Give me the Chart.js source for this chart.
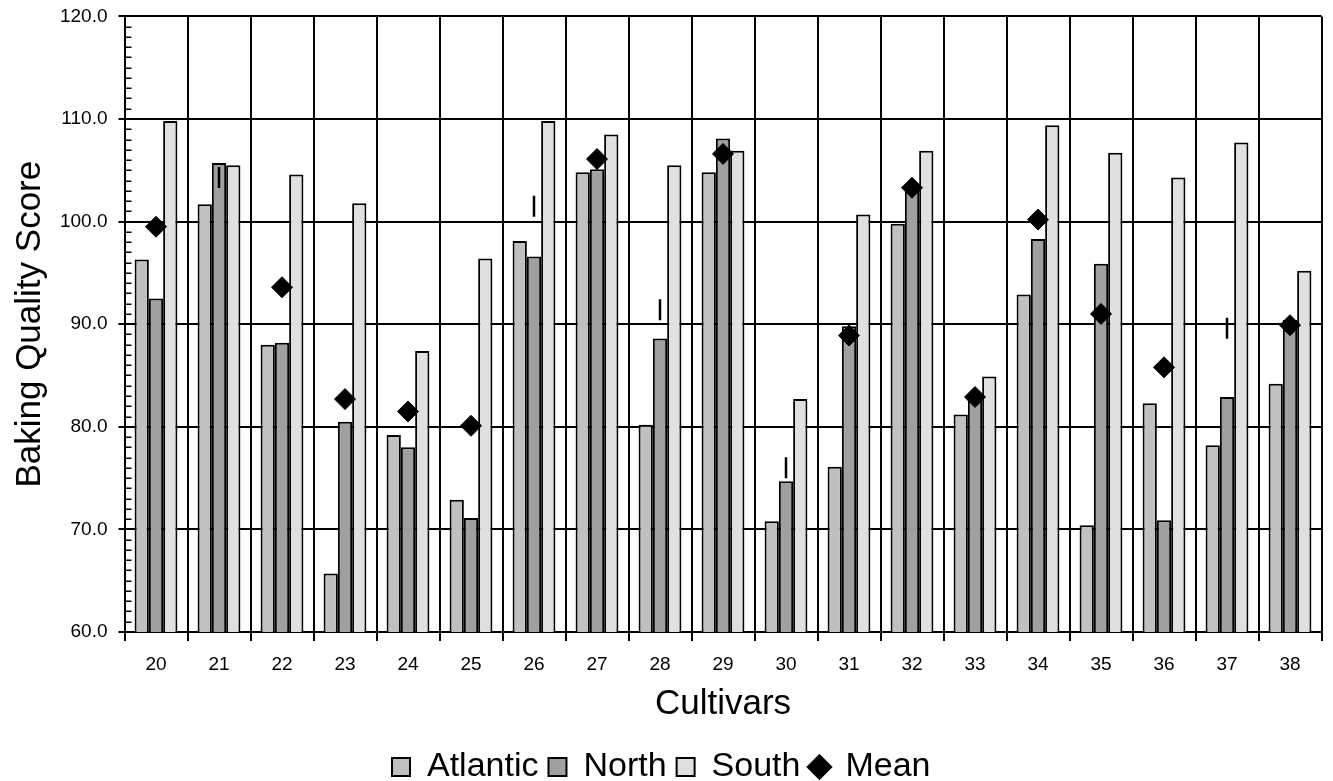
<!DOCTYPE html>
<html><head><meta charset="utf-8">
<script src="https://cdn.jsdelivr.net/npm/chart.js@4/dist/chart.umd.min.js"></script>
<style>html,body{margin:0;padding:0;background:#fff;overflow:hidden}#wrap{width:1333px;height:800px;position:relative;top:-6px}</style>
</head><body><div id="wrap"><canvas id="c"></canvas></div>
<script>
const cultivars = ['20','21','22','23','24','25','26','27','28','29','30','31','32','33','34','35','36','37','38'];
const atlantic = [96.3, 101.7, 88.0, 65.7, 79.2, 72.9, 98.1, 104.8, 80.2, 104.8, 70.8, 76.1, 99.8, 81.2, 92.9, 70.4, 82.3, 78.2, 84.2];
const north    = [92.5, 105.7, 88.2, 80.5, 78.0, 71.1, 96.6, 105.1, 88.6, 108.1, 74.7, 89.8, 103.1, 82.6, 98.3, 95.9, 70.9, 82.9, 90.4];
const south    = [109.8, 105.5, 104.6, 101.8, 87.4, 96.4, 109.8, 108.5, 105.5, 106.9, 82.7, 100.7, 106.9, 84.9, 109.4, 106.7, 104.3, 107.7, 95.2];
const mean     = [99.5, 104.3, 93.6, 82.7, 81.5, 80.1, 101.5, 106.1, 91.4, 106.6, 76.0, 88.9, 103.3, 82.9, 100.2, 91.0, 85.8, 89.6, 89.9];
// cultivars whose mean marker is drawn as a short vertical dash in the original
const dashMeans = ['21','26','28','30','37'];
const yTicksMin = 60, yTicksMax = 120, yStep = 10;

Chart.defaults.font.family = '"Liberation Sans", Arial, sans-serif';
Chart.defaults.color = '#000';

const minorTicks = {
  id: 'minorTicks',
  afterDraw(chart) {
    const y = chart.scales.y, ctx = chart.ctx, left = chart.chartArea.left;
    ctx.save();
    ctx.strokeStyle = '#000';
    ctx.lineWidth = 1.5;
    for (let v = y.min + 1; v < y.max; v += 1) {
      if (v % 10 === 0) continue;
      const py = Math.round(y.getPixelForValue(v)) + 0.25;
      ctx.beginPath(); ctx.moveTo(left, py); ctx.lineTo(left + 7, py); ctx.stroke();
    }
    ctx.restore();
  }
};

const isDash = ctx => dashMeans.includes(cultivars[ctx.dataIndex]);

new Chart(document.getElementById('c'), {
  data: {
    labels: cultivars,
    datasets: [
      { type: 'bar', label: 'Atlantic', data: atlantic, backgroundColor: '#C0C0C0', borderColor: '#000', borderWidth: 2, pointStyle: 'rect', order: 1 },
      { type: 'bar', label: 'North', data: north, backgroundColor: '#A0A0A0', borderColor: '#000', borderWidth: 2, pointStyle: 'rect', order: 1 },
      { type: 'bar', label: 'South', data: south, backgroundColor: '#E0E0E0', borderColor: '#000', borderWidth: 2, pointStyle: 'rect', order: 1 },
      { type: 'line', label: 'Mean', data: mean, showLine: false, order: 0,
        backgroundColor: '#000', borderColor: '#000',
        pointStyle: ctx => isDash(ctx) ? 'line' : 'rectRot',
        rotation: ctx => isDash(ctx) ? 90 : 0,
        pointRadius: 10.5,
        pointBorderWidth: ctx => isDash(ctx) ? 2.5 : 1,
        pointHoverRadius: 10.5 }
    ]
  },
  options: {
    responsive: true,
    maintainAspectRatio: false,
    animation: false,
    layout: { padding: { top: 16, right: 10.5, left: 0, bottom: 0 } },
    datasets: { bar: { categoryPercentage: 0.68, barPercentage: 1.0 } },
    plugins: {
      tooltip: { enabled: false },
      legend: {
        position: 'bottom',
        labels: {
          usePointStyle: true,
          boxHeight: 18,
          boxWidth: 18,
          padding: 10,
          color: '#000',
          font: { size: 34 },
          sort: (a, b) => a.datasetIndex - b.datasetIndex
        }
      }
    },
    scales: {
      x: {
        offset: true,
        grid: { offset: true, color: '#000', lineWidth: 2, tickLength: 9, drawTicks: true },
        border: { color: '#000', width: 2 },
        ticks: { font: { size: 19 }, padding: 12, color: '#000', maxRotation: 0 },
        title: { display: true, text: 'Cultivars', font: { size: 35 }, color: '#000', padding: { top: 0, bottom: 15 } },
        afterFit(scale) { scale.height = 108; }
      },
      y: {
        min: yTicksMin, max: yTicksMax,
        grid: { color: '#000', lineWidth: 2, tickLength: 6 },
        border: { color: '#000', width: 2 },
        ticks: { stepSize: yStep, font: { size: 19 }, padding: 11, color: '#000', callback: v => Number(v).toFixed(1) },
        title: { display: true, text: 'Baking Quality Score', font: { size: 35 }, color: '#000', padding: { top: 9, bottom: 0 } },
        afterFit(scale) { scale.width = 124.5; }
      }
    }
  },
  plugins: [minorTicks]
});
</script>
</body></html>
